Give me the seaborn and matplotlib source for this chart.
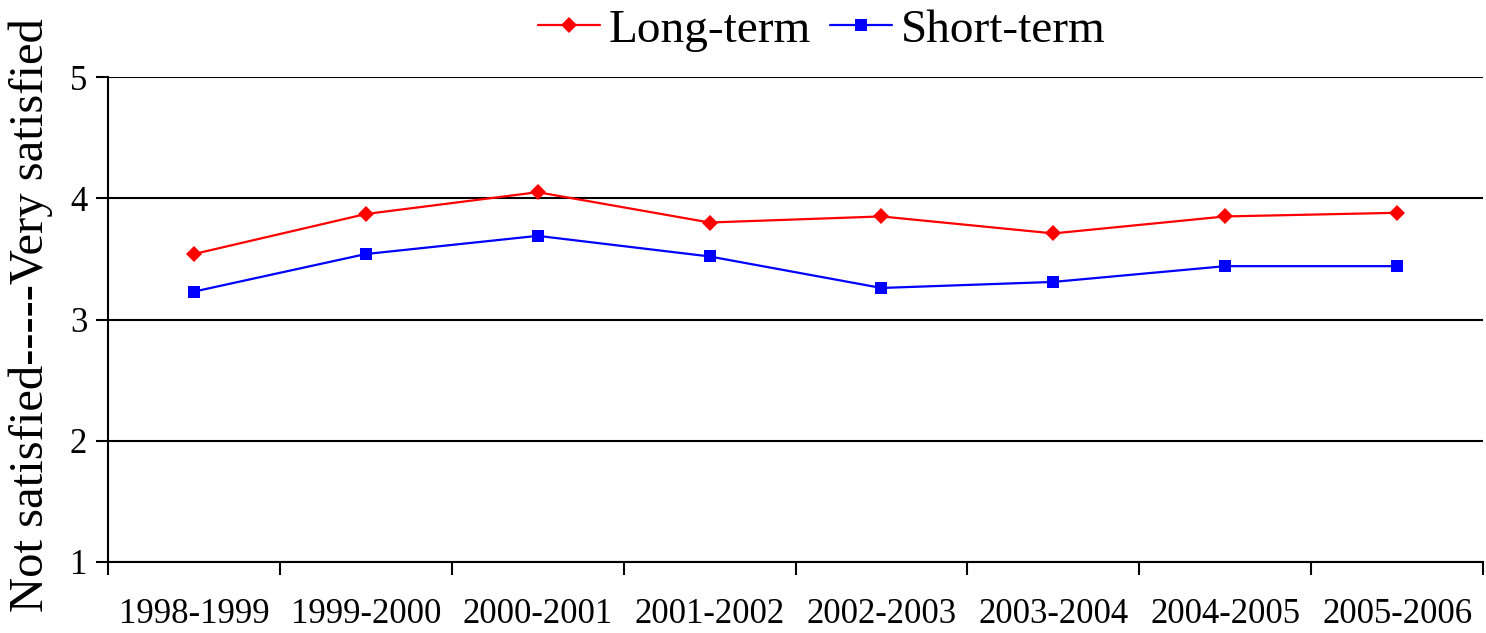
import matplotlib
matplotlib.use("Agg")
import matplotlib.pyplot as plt
import seaborn as sns
import pandas as pd
import numpy as np
from matplotlib.ticker import FixedLocator, NullFormatter, FixedFormatter

years = ["1998-1999", "1999-2000", "2000-2001", "2001-2002",
         "2002-2003", "2003-2004", "2004-2005", "2005-2006"]
long_term = [3.54, 3.87, 4.05, 3.80, 3.85, 3.71, 3.85, 3.88]
short_term = [3.23, 3.54, 3.69, 3.52, 3.26, 3.31, 3.44, 3.44]
y_ticks = [1, 2, 3, 4, 5]

sns.set_style("white")
plt.rcParams["font.family"] = ["Liberation Serif", "DejaVu Serif"]
plt.rcParams["text.color"] = "black"
plt.rcParams["xtick.color"] = "black"
plt.rcParams["ytick.color"] = "black"
plt.rcParams["axes.labelcolor"] = "black"

df = pd.DataFrame({
    "pos": list(range(len(years))) * 2,
    "value": long_term + short_term,
    "series": ["Long-term"] * len(years) + ["Short-term"] * len(years),
})

fig = plt.figure(figsize=(14.86, 6.33), dpi=100)
ax = fig.add_axes([108 / 1486, 1 - 562 / 633, 1375 / 1486, 485 / 633])

sns.lineplot(data=df, x="pos", y="value", hue="series", style="series",
             palette={"Long-term": "#ff0000", "Short-term": "#0000ff"},
             markers={"Long-term": "D", "Short-term": "s"},
             dashes=False, markersize=8.5, linewidth=1.6,
             markeredgewidth=0, ax=ax, zorder=3)

ax.set_xlim(-0.5, len(years) - 0.5)
ax.set_ylim(1, 5)
ax.set_yticks(y_ticks)
ax.set_yticklabels([str(t) for t in y_ticks])
ax.xaxis.set_major_locator(FixedLocator(np.arange(-0.5, len(years), 1.0)))
ax.xaxis.set_major_formatter(NullFormatter())
ax.xaxis.set_minor_locator(FixedLocator(np.arange(len(years))))
ax.xaxis.set_minor_formatter(FixedFormatter(years))
ax.tick_params(axis="x", which="major", bottom=True, direction="out", length=9, width=1.5, color="black")
ax.tick_params(axis="x", which="minor", bottom=True, length=0, labelsize=25, pad=26, labelcolor="black")
ax.tick_params(axis="y", left=True, direction="out", length=9, width=1.5, color="black",
               labelsize=25, pad=6, labelcolor="black")

ax.grid(axis="y", color="black", linewidth=1.5)
ax.grid(axis="x", visible=False)
for s in ["top", "right"]:
    ax.spines[s].set_visible(False)
for s in ["left", "bottom"]:
    ax.spines[s].set_color("black")
    ax.spines[s].set_linewidth(1.5)
    ax.spines[s].set_zorder(4)

ax.set_xlabel("")
ax.set_ylabel("Not satisfied-----Very satisfied", fontsize=35, color="black",
              fontfamily=["Liberation Serif", "DejaVu Serif"])
ax.yaxis.set_label_coords(-0.040, 0.51)

ax.legend_.remove()
handles, labels = ax.get_legend_handles_labels()
fig.legend(handles, labels, loc="center", bbox_to_anchor=(822 / 1486, 1 - 30 / 633),
           ncol=2, frameon=False, fontsize=34, handlelength=1.3, handletextpad=0.2,
           columnspacing=0.4, borderpad=0, labelcolor="black")

fig.savefig("out.png", dpi=100)
